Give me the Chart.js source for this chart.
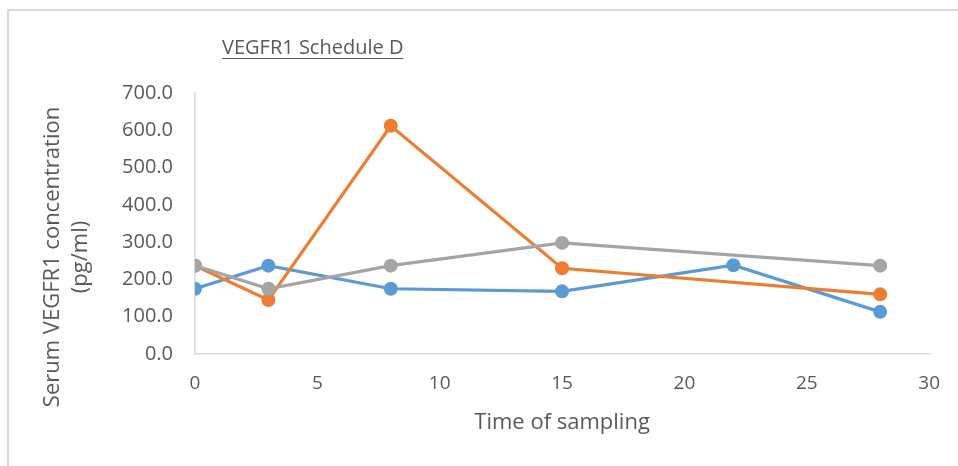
<!DOCTYPE html>
<html>
<head>
<meta charset="utf-8">
<script src="https://cdn.jsdelivr.net/npm/chart.js@4"></script>
<style>
  html, body {
    margin: 0;
    padding: 0;
    background: #fff;
  }

  .wrap {
    position: relative;
    width: 958px;
    height: 466px;
    overflow: hidden;
  }

  .frame {
    position: absolute;
    left: 7px;
    top: 9px;
    width: 1000px;
    height: 1000px;
    border-left: 2px solid #d9d9d9;
    border-top: 2px solid #d9d9d9;
    pointer-events: none;
  }
</style>
</head>
<body>
<div class="wrap">
  <canvas id="chart" width="958" height="466"></canvas>
  <div class="frame"></div>
</div>
<script>
const chartTitle = "VEGFR1 Schedule D";
const xTitle = "Time of sampling";
const yTitleLines = ["Serum VEGFR1 concentration", "(pg/ml)"];

// sampling times (x) and concentrations (y) per series
const blueTimes = [0, 3, 8, 15, 22, 28];
const blueValues = [175, 237, 175, 168, 238, 113];
const orangeTimes = [0, 3, 8, 15, 28];
const orangeValues = [237, 145, 612, 230, 160];
const grayTimes = [0, 3, 8, 15, 28];
const grayValues = [237, 175, 237, 298, 237];

const xTicks = [0, 5, 10, 15, 20, 25, 30];
const yTicks = [0, 100, 200, 300, 400, 500, 600, 700];

const FONT = "'Open Sans', sans-serif";
const TEXT = "#595959";

const toPoints = (xs, ys) => xs.map((x, i) => ({ x, y: ys[i] }));

const series = (label, xs, ys, color, order) => ({
  label,
  data: toPoints(xs, ys),
  showLine: true,
  borderColor: color,
  backgroundColor: color,
  borderWidth: 3.2,
  pointRadius: 7,
  pointBorderWidth: 0,
  pointHoverRadius: 7,
  order,
});

// underlined title, x title, and two-line rotated y title
const textPlugin = {
  id: "textPlugin",
  afterDraw(chart) {
    const ctx = chart.ctx;
    const area = chart.chartArea;
    ctx.save();
    ctx.fillStyle = TEXT;
    ctx.strokeStyle = TEXT;

    ctx.font = `20px ${FONT}`;
    ctx.textAlign = "left";
    ctx.textBaseline = "alphabetic";
    const w = ctx.measureText(chartTitle).width;
    ctx.fillText(chartTitle, 222, 54);
    ctx.lineWidth = 1;
    ctx.beginPath();
    ctx.moveTo(222, 58.5);
    ctx.lineTo(222 + w, 58.5);
    ctx.stroke();

    ctx.font = `22px ${FONT}`;
    ctx.textAlign = "center";
    ctx.textBaseline = "middle";
    ctx.fillText(xTitle, (area.left + area.right) / 2, 423);

    ctx.font = `22px ${FONT}`;
    ctx.translate(0, 257);
    ctx.rotate(-Math.PI / 2);
    ctx.fillText(yTitleLines[0], 0, 53);
    ctx.fillText(yTitleLines[1], 0, 81);
    ctx.restore();
  },
};

new Chart(document.getElementById("chart"), {
  type: "scatter",
  data: {
    datasets: [
      series("Series 1", blueTimes, blueValues, "#5b9bd5", 3),
      series("Series 2", orangeTimes, orangeValues, "#ed7d31", 2),
      series("Series 3", grayTimes, grayValues, "#a5a5a5", 1),
    ],
  },
  options: {
    responsive: false,
    animation: false,
    layout: { padding: { left: 0, top: 93, right: 28, bottom: 0 } },
    plugins: {
      legend: { display: false },
      tooltip: { enabled: false },
    },
    scales: {
      x: {
        type: "linear",
        min: 0,
        max: 30,
        afterBuildTicks: (scale) => {
          scale.ticks = xTicks.map((v) => ({ value: v }));
        },
        afterFit: (scale) => {
          scale.height = 112;
        },
        grid: { display: false, drawTicks: false },
        border: { display: true, color: "#d9d9d9", width: 1.5 },
        ticks: {
          color: TEXT,
          font: { family: FONT, size: 19 },
          padding: 18,
        },
      },
      y: {
        type: "linear",
        min: 0,
        max: 700,
        afterBuildTicks: (scale) => {
          scale.ticks = yTicks.map((v) => ({ value: v }));
        },
        afterFit: (scale) => {
          scale.width = 195;
        },
        grid: { display: false, drawTicks: false },
        border: { display: true, color: "#d9d9d9", width: 1.5 },
        ticks: {
          color: TEXT,
          font: { family: FONT, size: 20 },
          padding: 22,
          callback: (v) => v.toFixed(1),
        },
      },
    },
  },
  plugins: [textPlugin],
});
</script>
</body>
</html>
